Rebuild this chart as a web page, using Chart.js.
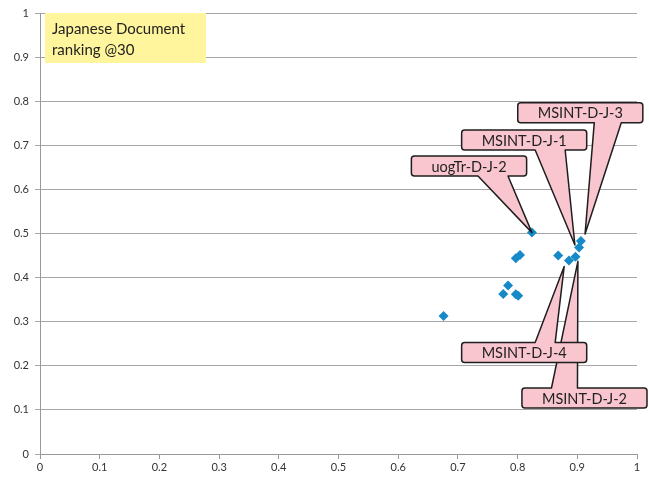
<!DOCTYPE html>
<html lang="en">
<head>
    <meta charset="UTF-8">
    <title>Japanese Document ranking @30</title>
    <script src="https://cdn.jsdelivr.net/npm/chart.js"></script>
    <style>
        body { margin: 0; background: #fff; }
        #wrap { width: 649px; height: 477px; position: relative; }
    </style>
</head>
<body>
    <div id="wrap"><canvas id="scatterChart"></canvas></div>
    <script>
        // values
        const xValues = [0.676, 0.824, 0.797, 0.804, 0.784, 0.776, 0.797, 0.801, 0.868, 0.886, 0.897, 0.903, 0.906];
        const yValues = [0.313, 0.502, 0.444, 0.451, 0.382, 0.363, 0.362, 0.359, 0.450, 0.439, 0.447, 0.468, 0.483];
        const xTicks = ['0', '0.1', '0.2', '0.3', '0.4', '0.5', '0.6', '0.7', '0.8', '0.9', '1'];
        const yTicks = ['0', '0.1', '0.2', '0.3', '0.4', '0.5', '0.6', '0.7', '0.8', '0.9', '1'];
        const titleLines = ['Japanese Document', 'ranking @30'];

        // callout labels: box centre and tip in data units
        const calloutNames = ['MSINT-D-J-2', 'MSINT-D-J-4', 'uogTr-D-J-2', 'MSINT-D-J-1', 'MSINT-D-J-3'];
        const calloutBox = [[0.912, 0.127], [0.811, 0.230], [0.7186, 0.653], [0.811, 0.712], [0.905, 0.774]];
        const calloutTip = [[0.901, 0.437], [0.878, 0.425], [0.824, 0.502], [0.896, 0.474], [0.913, 0.499]];
        // where the tail leaves the box, px from box centre (styling)
        const tailBase = [[-33, -7], [11, 31], [9, 39], [11, 41], [14, 41]];

        const points = xValues.map((x, i) => ({ x: x, y: yValues[i] }));

        const calloutPlugin = {
            id: 'callouts',
            afterDatasetsDraw(chart) {
                const ctx = chart.ctx;
                const xs = chart.scales.x, ys = chart.scales.y;
                const area = chart.chartArea;

                // title box
                ctx.save();
                ctx.fillStyle = '#fff59d';
                ctx.fillRect(area.left + 5, area.top, 161, 50);
                ctx.fillStyle = '#222';
                ctx.font = '15px Lato, "Open Sans", sans-serif';
                ctx.textBaseline = 'middle';
                ctx.fillText(titleLines[0], area.left + 12, area.top + 16);
                ctx.fillText(titleLines[1], area.left + 12, area.top + 37);
                ctx.restore();

                ctx.save();
                ctx.font = '14.5px Lato, "Open Sans", sans-serif';
                calloutNames.forEach((name, i) => {
                    const cx = xs.getPixelForValue(calloutBox[i][0]);
                    const cy = ys.getPixelForValue(calloutBox[i][1]);
                    const tx = xs.getPixelForValue(calloutTip[i][0]);
                    const ty = ys.getPixelForValue(calloutTip[i][1]);
                    const w = ctx.measureText(name).width + 40;
                    const h = 20, r = 3;
                    const l = cx - w / 2, rgt = cx + w / 2, t = cy - h / 2, b = cy + h / 2;
                    const below = ty > cy;
                    const b1 = cx + tailBase[i][0], b2 = cx + tailBase[i][1];

                    ctx.beginPath();
                    ctx.moveTo(l + r, t);
                    if (!below) { ctx.lineTo(b1, t); ctx.lineTo(tx, ty); ctx.lineTo(b2, t); }
                    ctx.lineTo(rgt - r, t);
                    ctx.arcTo(rgt, t, rgt, t + r, r);
                    ctx.lineTo(rgt, b - r);
                    ctx.arcTo(rgt, b, rgt - r, b, r);
                    if (below) { ctx.lineTo(b2, b); ctx.lineTo(tx, ty); ctx.lineTo(b1, b); }
                    ctx.lineTo(l + r, b);
                    ctx.arcTo(l, b, l, b - r, r);
                    ctx.lineTo(l, t + r);
                    ctx.arcTo(l, t, l + r, t, r);
                    ctx.closePath();
                    ctx.fillStyle = '#f9c5ce';
                    ctx.fill();
                    ctx.lineWidth = 1.5;
                    ctx.strokeStyle = '#1e1e1e';
                    ctx.lineJoin = 'round';
                    ctx.stroke();

                    ctx.fillStyle = '#222';
                    ctx.textAlign = 'center';
                    ctx.textBaseline = 'middle';
                    ctx.fillText(name, cx, cy + 1);
                });
                ctx.restore();
            }
        };

        const ctx = document.getElementById('scatterChart').getContext('2d');
        const scatterChart = new Chart(ctx, {
            type: 'scatter',
            data: {
                datasets: [{
                    data: points,
                    pointStyle: 'rectRot',
                    pointRadius: 5,
                    pointHoverRadius: 5,
                    backgroundColor: '#168ac8',
                    borderColor: '#168ac8',
                    borderWidth: 0
                }]
            },
            options: {
                responsive: true,
                maintainAspectRatio: false,
                animation: false,
                layout: { padding: { left: 0, right: 12, top: 13, bottom: 0 } },
                plugins: { legend: { display: false }, tooltip: { enabled: false } },
                scales: {
                    x: {
                        type: 'linear',
                        min: 0,
                        max: 1,
                        afterFit: (s) => { s.height = 23; },
                        afterBuildTicks: (s) => { s.ticks = xTicks.map((t) => ({ value: parseFloat(t) })); },
                        grid: { drawOnChartArea: false, color: '#999', tickLength: 5 },
                        border: { color: '#999' },
                        ticks: {
                            callback: (v, i) => xTicks[i],
                            font: { family: 'Lato', size: 11 },
                            color: '#333',
                            padding: 2,
                            maxRotation: 0
                        }
                    },
                    y: {
                        min: 0,
                        max: 1,
                        afterFit: (s) => { s.width = 40; },
                        afterBuildTicks: (s) => { s.ticks = yTicks.map((t) => ({ value: parseFloat(t) })); },
                        grid: { color: '#a6a6a6', tickLength: 5 },
                        border: { color: '#999' },
                        ticks: {
                            callback: (v, i) => yTicks[i],
                            font: { family: 'Lato', size: 11 },
                            color: '#333',
                            padding: 6
                        }
                    }
                }
            },
            plugins: [calloutPlugin]
        });
    </script>
</body>
</html>
